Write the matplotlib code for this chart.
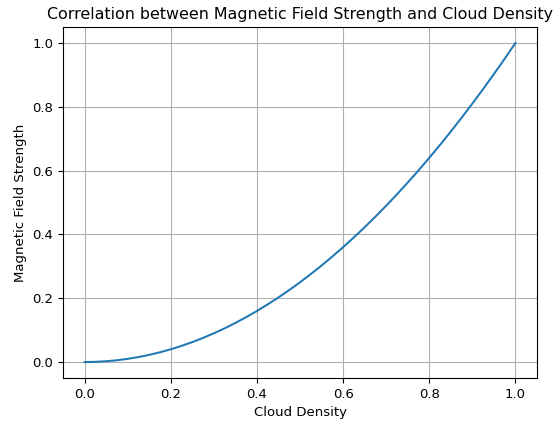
import matplotlib
matplotlib.use("Agg")
import matplotlib.pyplot as plt

cloud_density = [0.0, 0.025, 0.05, 0.075, 0.1, 0.125, 0.15, 0.175, 0.2, 0.225, 0.25,
                 0.275, 0.3, 0.325, 0.35, 0.375, 0.4, 0.425, 0.45, 0.475, 0.5,
                 0.525, 0.55, 0.575, 0.6, 0.625, 0.65, 0.675, 0.7, 0.725, 0.75,
                 0.775, 0.8, 0.825, 0.85, 0.875, 0.9, 0.925, 0.95, 0.975, 1.0]
magnetic_field = [0.0, 0.0006, 0.0025, 0.0056, 0.01, 0.0156, 0.0225, 0.0306, 0.04, 0.0506, 0.0625,
                  0.0756, 0.09, 0.1056, 0.1225, 0.1406, 0.16, 0.1806, 0.2025, 0.2256, 0.25,
                  0.2756, 0.3025, 0.3306, 0.36, 0.3906, 0.4225, 0.4556, 0.49, 0.5256, 0.5625,
                  0.6006, 0.64, 0.6806, 0.7225, 0.7656, 0.81, 0.8556, 0.9025, 0.9506, 1.0]

fig = plt.figure(figsize=(5.58, 4.26), dpi=100)
ax = fig.add_axes([63/558, 1-378/426, (537-63)/558, (378-27)/426])
ax.plot(cloud_density, magnetic_field, color="#1f77b4", linewidth=1.45)
ax.set_title("Correlation between Magnetic Field Strength and Cloud Density", fontsize=11.4)
ax.set_xlabel("Cloud Density", fontsize=9.5)
ax.set_ylabel("Magnetic Field Strength", fontsize=9.5)
ax.tick_params(labelsize=9.5)
ax.grid(True)
fig.savefig("out.png", dpi=100)
